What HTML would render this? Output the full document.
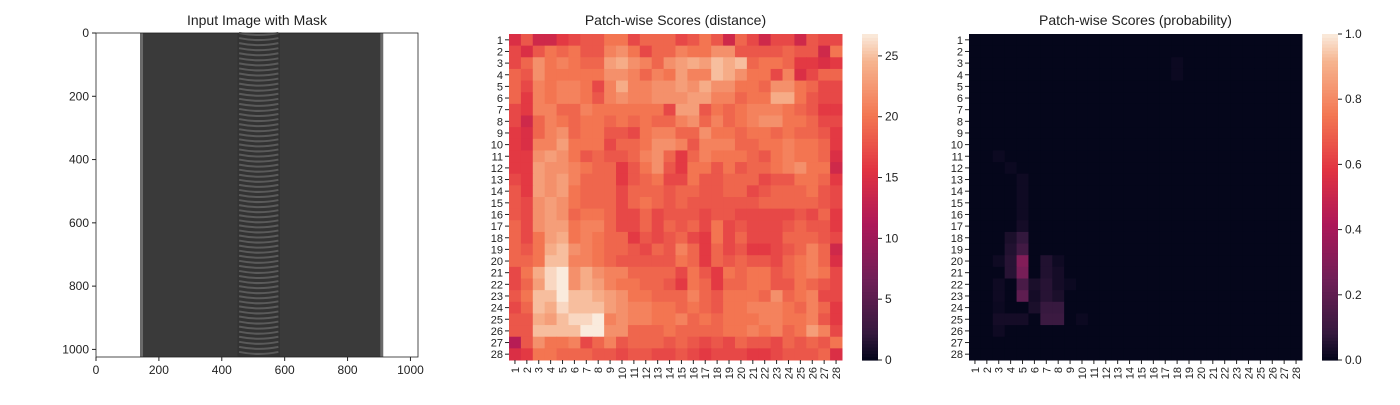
<!DOCTYPE html>
<html><head><meta charset="utf-8"><style>
body{margin:0;background:#fff;font-family:"Liberation Sans","DejaVu Sans",sans-serif}
svg text{font-family:"Liberation Sans","DejaVu Sans",sans-serif;fill:#222}
</style></head><body>
<svg id="fig" width="1400" height="400" xmlns="http://www.w3.org/2000/svg"></svg>
<script>
const distRows = [
[15,18,14,14,16,17,18,18,20,20,17,19,19,19,17,18,20,18,14,19,17,14,17,17,14,18,17,17],
[17,15,18,20,19,20,18,18,21,22,20,17,19,19,21,20,20,22,22,18,18,18,18,19,18,18,14,20],
[17,19,22,20,21,20,19,19,23,24,22,21,19,22,23,24,23,25,24,25,19,20,20,19,16,16,15,16],
[19,18,22,20,20,20,20,20,22,22,21,19,21,20,23,21,21,25,24,22,20,20,17,21,15,17,19,19],
[19,17,21,20,21,21,20,17,21,24,21,21,22,22,23,22,24,22,22,20,20,19,22,22,20,19,17,17],
[19,16,21,20,21,21,20,18,21,22,21,21,22,22,22,23,23,21,21,19,20,20,24,24,20,18,17,17],
[17,16,21,21,19,19,21,20,20,20,20,20,20,17,23,23,18,20,19,20,21,21,21,20,19,18,16,16],
[17,14,19,21,20,19,20,20,19,20,19,20,19,19,21,22,19,21,19,20,21,22,22,20,20,19,17,17],
[16,15,19,21,22,19,20,20,18,18,17,20,21,21,19,19,22,20,20,19,20,20,19,20,19,19,18,16],
[16,15,21,21,23,20,20,20,17,19,19,20,22,22,21,18,21,21,21,19,19,20,20,21,20,20,19,16],
[16,16,22,23,22,20,18,19,18,18,19,21,22,19,16,19,21,20,20,20,19,18,20,21,20,20,19,15],
[16,16,23,22,22,21,20,19,19,16,18,20,22,18,16,20,20,18,20,18,19,19,20,21,22,20,20,14],
[17,16,23,22,23,21,19,19,19,16,18,19,20,17,17,20,18,18,19,19,19,17,18,18,20,20,19,16],
[18,16,23,22,23,20,19,19,19,17,19,19,19,18,19,19,18,18,19,19,17,18,19,19,19,20,18,17],
[18,17,22,23,22,20,19,19,19,17,19,20,19,18,19,18,18,18,18,18,18,19,19,19,19,19,18,17],
[18,17,22,23,22,19,20,20,19,17,17,19,17,18,18,18,17,18,18,17,17,17,17,17,18,17,19,16],
[19,17,22,23,23,20,21,21,19,17,17,19,17,19,18,19,17,20,17,18,17,17,17,18,19,18,18,16],
[19,17,20,23,24,20,21,20,19,19,16,18,17,18,19,17,16,20,17,19,17,17,17,19,19,19,18,17],
[19,18,20,24,25,22,21,20,19,19,18,17,19,18,21,19,16,19,17,18,16,16,17,18,19,21,19,14],
[19,19,20,25,25,21,21,20,19,18,18,18,18,18,20,19,16,19,18,19,18,18,17,19,20,21,19,15],
[17,20,24,26,27,22,24,22,21,21,19,19,19,19,17,20,18,16,20,19,20,20,18,19,20,21,20,17],
[17,19,23,26,27,22,24,23,21,20,20,19,19,18,16,20,19,16,19,19,20,20,18,18,20,19,18,17],
[18,20,25,25,27,25,25,24,23,22,20,20,19,19,19,21,19,18,20,20,20,19,22,19,20,21,17,17],
[17,19,25,24,26,25,25,25,23,22,21,21,20,20,19,20,19,18,20,20,21,21,21,20,19,21,19,16],
[18,18,24,23,25,26,26,27,21,22,21,21,20,20,21,19,20,19,20,20,20,21,21,20,20,21,18,16],
[18,18,25,25,25,25,27,27,22,22,19,19,19,20,19,19,19,19,20,20,21,20,21,19,20,23,21,17],
[12,18,22,20,20,21,17,19,21,18,19,19,19,18,19,18,17,18,17,19,18,18,17,19,18,19,18,20],
[15,16,20,20,19,19,19,18,18,17,18,18,17,17,18,17,16,17,17,17,16,16,17,18,18,18,19,15]];
const probRowIdx = [2,3,10,11,12,13,14,15,16,17,17,18,18,19,19,19,19,19,20,20,20,20,21,21,21,21,21,21,22,22,22,22,22,23,23,23,23,24,24,24,24,24,24,25];
const probColIdx = [17,17,2,3,4,4,4,4,4,3,4,3,4,2,3,4,6,7,3,4,6,7,2,4,5,6,7,8,2,4,5,6,7,2,5,6,7,2,3,4,6,7,9,2];
const probVals = [.015,.015,.015,.015,.02,.02,.02,.02,.03,.04,.08,.05,.12,.02,.06,.3,.05,.02,.06,.27,.05,.03,.02,.14,.04,.06,.03,.015,.02,.2,.03,.06,.04,.015,.04,.09,.09,.03,.03,.03,.1,.1,.015,.02];
const imgTicks = [0,200,400,600,800,1000];
const distTicks = [0,5,10,15,20,25];
const probTicks = [0,0.2,0.4,0.6,0.8,1.0];
const labels = Array.from({length:28},(_,i)=>String(i+1));

const NS="http://www.w3.org/2000/svg", svg=document.getElementById('fig');
function el(t,a,p){const e=document.createElementNS(NS,t);for(const k in a)e.setAttribute(k,a[k]);(p||svg).appendChild(e);return e;}
function txt(x,y,s,a,p){const e=el('text',Object.assign({x:x,y:y},a),p);e.textContent=s;return e;}
const stops=[[0,[3,5,26]],[.083,[53,25,62]],[.25,[112,31,87]],[.417,[173,23,89]],[.583,[225,51,66]],[.75,[243,118,81]],[.917,[246,180,143]],[1,[250,235,221]]];
function rocket(t){t=Math.max(0,Math.min(1,t));for(let i=1;i<stops.length;i++){if(t<=stops[i][0]){const a=stops[i-1],b=stops[i],f=(t-a[0])/(b[0]-a[0]);return 'rgb('+a[1].map((v,k)=>Math.round(v+(b[1][k]-v)*f)).join(',')+')';}}return 'rgb(250,235,221)';}

// ---- Panel 1: image ----
const ax1={x:96,y:33,w:322,h:324};
const ix=v=>ax1.x+v/1024*ax1.w, iy=v=>ax1.y+v/1024*ax1.h;
txt(257,25,'Input Image with Mask',{'text-anchor':'middle','font-size':14});
const g1=el('g',{});
el('rect',{x:ix(140),y:ax1.y,width:ix(910)-ix(140),height:ax1.h,fill:'#3a3a3a'},g1);
el('rect',{x:ix(140),y:ax1.y,width:3,height:ax1.h,fill:'#6a6a6a'},g1);
el('rect',{x:ix(904),y:ax1.y,width:3,height:ax1.h,fill:'#6a6a6a'},g1);
el('rect',{x:ix(450),y:ax1.y,width:ix(585)-ix(450),height:ax1.h,fill:'#333'},g1);
for(let k=0;k<64;k++){const y=ax1.y+k*ax1.h/64;el('path',{d:`M${ix(455)} ${y} Q${ix(518)} ${y+4} ${ix(580)} ${y}`,stroke:'#5a5a5a','stroke-width':2,fill:'none'},g1);}
el('rect',{x:ax1.x,y:ax1.y,width:ax1.w,height:ax1.h,fill:'none',stroke:'#222','stroke-width':0.8});
imgTicks.forEach(v=>{el('line',{x1:ix(v),x2:ix(v),y1:ax1.y+ax1.h,y2:ax1.y+ax1.h+4,stroke:'#222'});txt(ix(v),ax1.y+ax1.h+17,String(v),{'text-anchor':'middle','font-size':12});
el('line',{x1:ax1.x-4,x2:ax1.x,y1:iy(v),y2:iy(v),stroke:'#222'});txt(ax1.x-7,iy(v)+4,String(v),{'text-anchor':'end','font-size':12});});

// ---- heatmaps ----
function heatmap(x0,title,cbx,vmax,ticks,getVal,name){
  const W=333,H=326,y0=34,cw=W/28,ch=H/28;
  txt(x0+W/2,25,title,{'text-anchor':'middle','font-size':14});
  const g=el('g',{});
  for(let r=0;r<28;r++)for(let c=0;c<28;c++){const v=getVal(r,c);const cell=el('rect',{x:x0+c*cw,y:y0+r*ch,width:cw+0.5,height:ch+0.5,fill:rocket(v/vmax)},g);
    }
  labels.forEach((s,i)=>{const yy=y0+(i+.5)*ch,xx=x0+(i+.5)*cw;
    el('line',{x1:x0-4,x2:x0,y1:yy,y2:yy,stroke:'#222'});
    txt(x0-6,yy+4,s,{'text-anchor':'end','font-size':11});
    el('line',{x1:xx,x2:xx,y1:y0+H,y2:y0+H+4,stroke:'#222'});
    const t=txt(0,0,s,{'text-anchor':'end','font-size':11,transform:`translate(${xx+4},${y0+H+7}) rotate(-90)`});});
  const cb=el('g',{});
  const n=100;for(let k=0;k<n;k++){el('rect',{x:cbx,y:y0+H-(k+1)*H/n,width:16,height:H/n+0.6,fill:rocket((k+.5)/n)},cb);}
  ticks.forEach(v=>{const yy=y0+H-v/vmax*H;el('line',{x1:cbx+16,x2:cbx+20,y1:yy,y2:yy,stroke:'#222'});
    txt(cbx+23,yy+4,vmax<=1?v.toFixed(1):String(v),{'font-size':12});});
}
heatmap(509,'Patch-wise Scores (distance)',862,26.8,distTicks,(r,c)=>distRows[r][c],'distance');
const probGrid=Array.from({length:28},()=>Array(28).fill(0.003));
probVals.forEach((v,i)=>{probGrid[probRowIdx[i]][probColIdx[i]]=v;});
heatmap(969,'Patch-wise Scores (probability)',1322,1.0,probTicks,(r,c)=>probGrid[r][c],'probability');
</script>
</body></html>
